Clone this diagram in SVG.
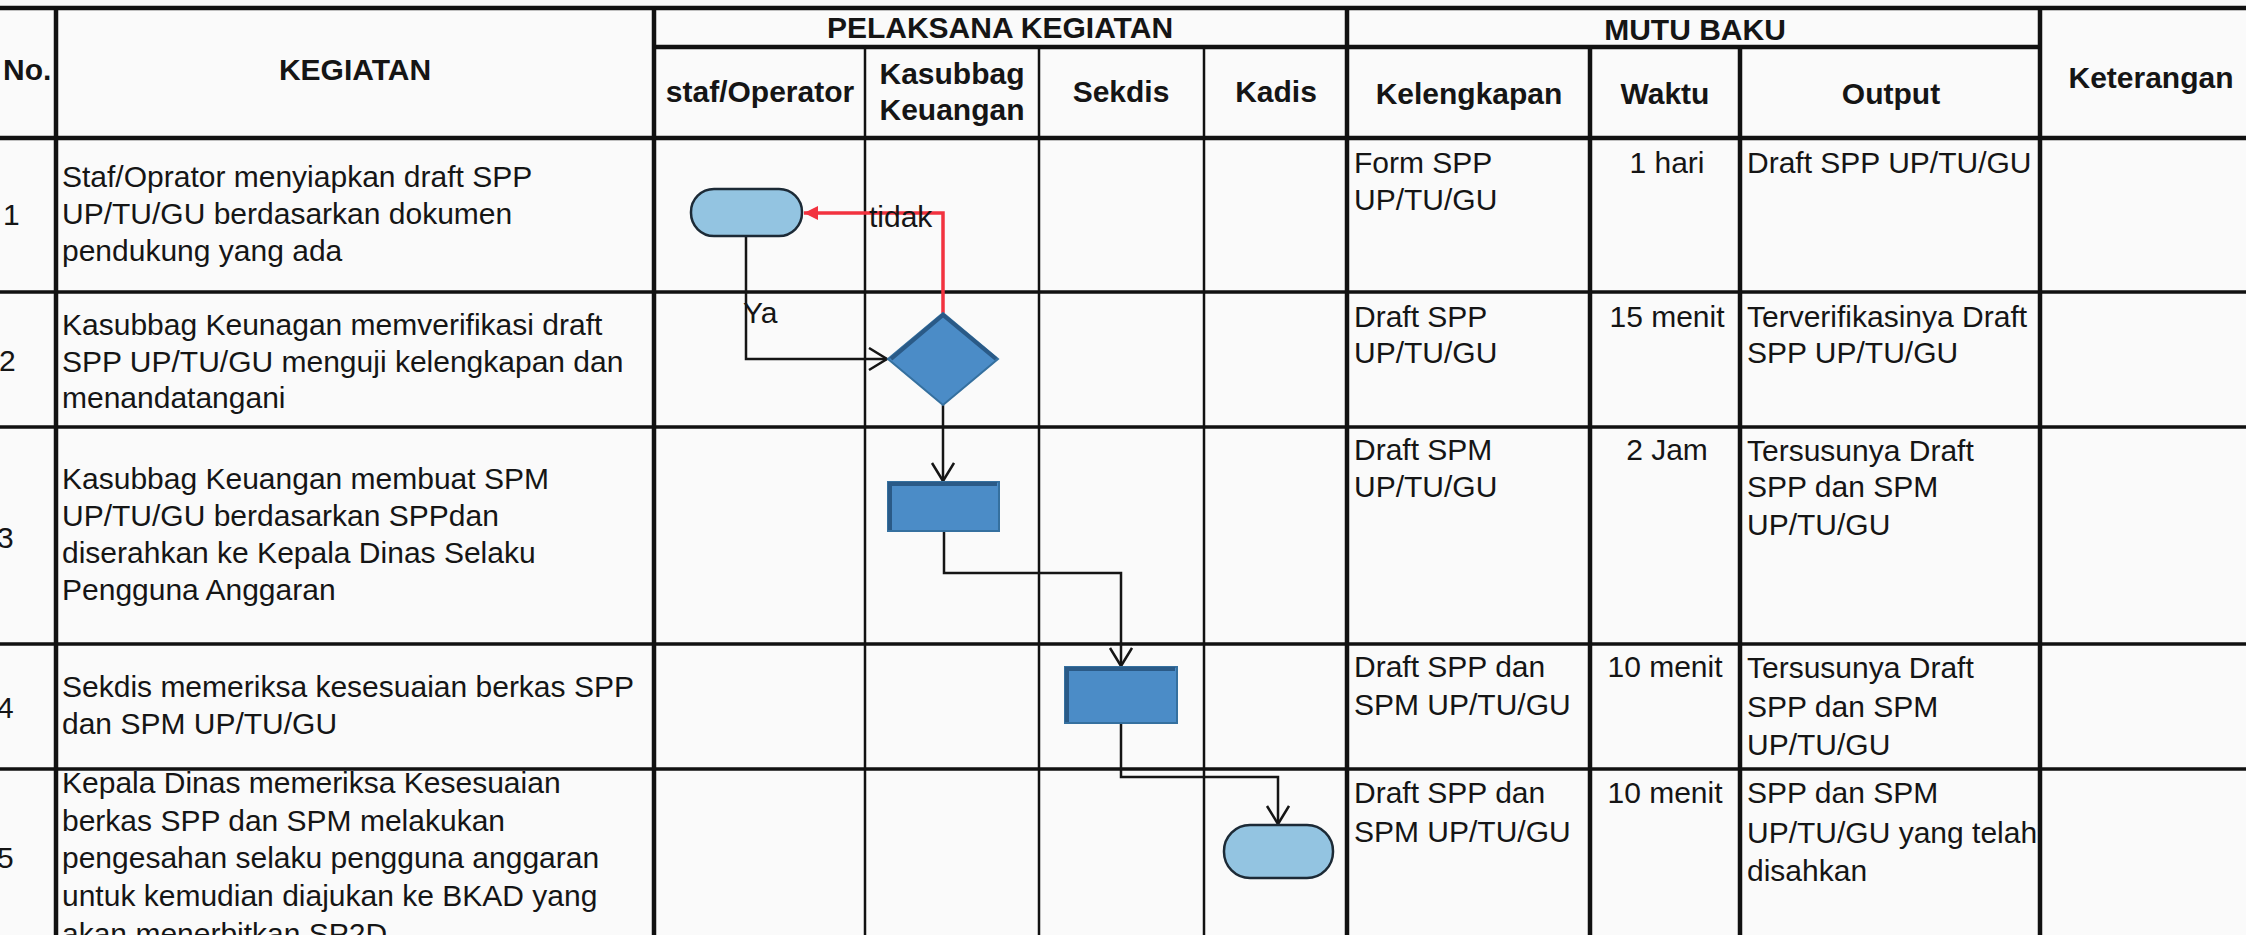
<svg xmlns="http://www.w3.org/2000/svg" width="2246" height="935" viewBox="0 0 2246 935">
<defs>
<style>
.t{font-family:"Liberation Sans",Arial,sans-serif;font-size:30px;fill:#151515}
.b{font-family:"Liberation Sans",Arial,sans-serif;font-size:30px;font-weight:bold;fill:#151515}
.c{text-anchor:middle}
.thick{stroke:#111;stroke-width:4.5;fill:none}
.mid{stroke:#111;stroke-width:3.5;fill:none}
.thin{stroke:#111;stroke-width:2.5;fill:none}
.term{fill:#93c4e1;stroke:#1c2a36;stroke-width:2.5}
.proc{fill:#4b8cc7;stroke:#35709f;stroke-width:2}
.bevel{fill:none;stroke:#2a5a87;stroke-width:4}
.conn{stroke:#151515;stroke-width:2.5;fill:none}
.red{stroke:#f2323f;stroke-width:3.5;fill:none}
</style>
<marker id="openv" markerUnits="userSpaceOnUse" markerWidth="24" markerHeight="26" refX="19" refY="12" orient="auto">
<path d="M1,1 L19,12 L1,23" fill="none" stroke="#151515" stroke-width="2.5"/>
</marker>
<marker id="redarrow" markerUnits="userSpaceOnUse" markerWidth="16" markerHeight="16" refX="14" refY="7" orient="auto">
<path d="M0,0 L14,7 L0,14 Z" fill="#f2323f"/>
</marker>
</defs>
<rect x="0" y="0" width="2246" height="935" fill="#fafafa"/>

<g id="grid">
<line class="thick" x1="0" y1="8" x2="2246" y2="8"/>
<line class="thick" x1="654" y1="47" x2="2040" y2="47"/>
<line class="thick" x1="0" y1="138" x2="2246" y2="138"/>
<line class="mid" x1="0" y1="292" x2="2246" y2="292"/>
<line class="mid" x1="0" y1="427" x2="2246" y2="427"/>
<line class="mid" x1="0" y1="644" x2="2246" y2="644"/>
<line class="mid" x1="0" y1="769" x2="2246" y2="769"/>
<line class="thick" x1="56" y1="8" x2="56" y2="935"/>
<line class="thick" x1="654" y1="8" x2="654" y2="935"/>
<line class="thin" x1="865" y1="47" x2="865" y2="935"/>
<line class="thin" x1="1039" y1="47" x2="1039" y2="935"/>
<line class="thin" x1="1204" y1="47" x2="1204" y2="935"/>
<line class="thick" x1="1347" y1="8" x2="1347" y2="935"/>
<line class="thick" x1="1590" y1="47" x2="1590" y2="935"/>
<line class="thick" x1="1740" y1="47" x2="1740" y2="935"/>
<line class="thick" x1="2040" y1="8" x2="2040" y2="935"/>
</g>

<g id="headers">
<text class="b" x="3" y="80">No.</text>
<text class="b c" x="355" y="80">KEGIATAN</text>
<text class="b c" x="1000" y="38">PELAKSANA KEGIATAN</text>
<text class="b c" x="760" y="102">staf/Operator</text>
<text class="b c" x="952" y="84">Kasubbag</text>
<text class="b c" x="952" y="120">Keuangan</text>
<text class="b c" x="1121" y="102">Sekdis</text>
<text class="b c" x="1276" y="102">Kadis</text>
<text class="b c" x="1695" y="40">MUTU BAKU</text>
<text class="b c" x="1469" y="104">Kelengkapan</text>
<text class="b c" x="1665" y="104">Waktu</text>
<text class="b c" x="1891" y="104">Output</text>
<text class="b c" x="2151" y="88">Keterangan</text>
</g>

<g id="row-1">
<text class="t" x="3" y="225">1</text>
<text class="t" x="62" y="187">Staf/Oprator menyiapkan draft SPP</text>
<text class="t" x="62" y="224">UP/TU/GU berdasarkan dokumen</text>
<text class="t" x="62" y="261">pendukung yang ada</text>
<text class="t" x="1354" y="173">Form SPP</text>
<text class="t" x="1354" y="210">UP/TU/GU</text>
<text class="t c" x="1667" y="173">1 hari</text>
<text class="t" x="1747" y="173">Draft SPP UP/TU/GU</text>
</g>

<g id="row-2">
<text class="t" x="-1" y="371">2</text>
<text class="t" x="62" y="335">Kasubbag Keunagan memverifikasi draft</text>
<text class="t" x="62" y="372">SPP UP/TU/GU menguji kelengkapan dan</text>
<text class="t" x="62" y="408">menandatangani</text>
<text class="t" x="1354" y="327">Draft SPP</text>
<text class="t" x="1354" y="363">UP/TU/GU</text>
<text class="t c" x="1667" y="327">15 menit</text>
<text class="t" x="1747" y="327">Terverifikasinya Draft</text>
<text class="t" x="1747" y="363">SPP UP/TU/GU</text>
</g>

<g id="row-3">
<text class="t" x="-3" y="548">3</text>
<text class="t" x="62" y="489">Kasubbag Keuangan membuat SPM</text>
<text class="t" x="62" y="526">UP/TU/GU berdasarkan SPPdan</text>
<text class="t" x="62" y="563">diserahkan ke Kepala Dinas Selaku</text>
<text class="t" x="62" y="600">Pengguna Anggaran</text>
<text class="t" x="1354" y="460">Draft SPM</text>
<text class="t" x="1354" y="497">UP/TU/GU</text>
<text class="t c" x="1667" y="460">2 Jam</text>
<text class="t" x="1747" y="461">Tersusunya Draft</text>
<text class="t" x="1747" y="497">SPP dan SPM</text>
<text class="t" x="1747" y="535">UP/TU/GU</text>
</g>

<g id="row-4">
<text class="t" x="-3" y="718">4</text>
<text class="t" x="62" y="697">Sekdis memeriksa kesesuaian berkas SPP</text>
<text class="t" x="62" y="734">dan SPM UP/TU/GU</text>
<text class="t" x="1354" y="677">Draft SPP dan</text>
<text class="t" x="1354" y="715">SPM UP/TU/GU</text>
<text class="t c" x="1665" y="677">10 menit</text>
<text class="t" x="1747" y="678">Tersusunya Draft</text>
<text class="t" x="1747" y="717">SPP dan SPM</text>
<text class="t" x="1747" y="755">UP/TU/GU</text>
</g>

<g id="row-5">
<text class="t" x="-3" y="868">5</text>
<text class="t" x="62" y="793">Kepala Dinas memeriksa Kesesuaian</text>
<text class="t" x="62" y="831">berkas SPP dan SPM melakukan</text>
<text class="t" x="62" y="868">pengesahan selaku pengguna anggaran</text>
<text class="t" x="62" y="906">untuk kemudian diajukan ke BKAD yang</text>
<text class="t" x="62" y="944">akan menerbitkan SP2D</text>
<text class="t" x="1354" y="803">Draft SPP dan</text>
<text class="t" x="1354" y="842">SPM UP/TU/GU</text>
<text class="t c" x="1665" y="803">10 menit</text>
<text class="t" x="1747" y="803">SPP dan SPM</text>
<text class="t" x="1747" y="843">UP/TU/GU yang telah</text>
<text class="t" x="1747" y="881">disahkan</text>
</g>

<g id="connectors">
<polyline class="red" points="943,313 943,213 804,213" marker-end="url(#redarrow)"/>
<polyline class="conn" points="746,236 746,359 887,359" marker-end="url(#openv)"/>
<polyline class="conn" points="943,405 943,481" marker-end="url(#openv)"/>
<polyline class="conn" points="944,531 944,573 1121,573 1121,666" marker-end="url(#openv)"/>
<polyline class="conn" points="1121,723 1121,777 1278,777 1278,824" marker-end="url(#openv)"/>
<text class="t" x="869" y="227">tidak</text>
<text class="t" x="743" y="323">Ya</text>
</g>

<g id="start-terminator">
<rect class="term" x="691" y="189" width="111" height="47" rx="23" ry="23"/>
</g>
<g id="decision">
<polygon class="proc" points="943,313 998,359 943,405 888,359"/>
<polyline class="bevel" points="891,359 943,315 996,359"/>
</g>
<g id="process-spm">
<rect class="proc" x="888" y="482" width="111" height="49"/>
<polyline class="bevel" points="890,530 890,484 997,484"/>
</g>
<g id="process-sekdis">
<rect class="proc" x="1065" y="667" width="112" height="56"/>
<polyline class="bevel" points="1067,722 1067,669 1175,669"/>
</g>
<g id="end-terminator">
<rect class="term" x="1224" y="825" width="109" height="53" rx="26" ry="26"/>
</g>
</svg>
